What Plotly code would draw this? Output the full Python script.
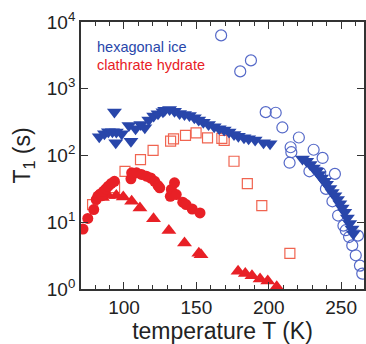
import plotly.graph_objects as go

# hexagonal ice, filled down-triangles
hex_tri_T = [82.9, 86.5, 89.2, 92.0, 93.4, 94.3, 94.7, 98.4, 103.4, 104.8, 108.0, 111.6, 114.4, 117.1,
             120.5, 123.5, 126.9, 128.1, 131.5, 134.9, 138.4, 141.8, 145.2, 148.6, 151.6, 154.8, 158.4,
             162.3, 165.8, 169.2, 172.6, 176.0, 179.0, 182.9, 186.1, 190.6, 196.4, 200.9,
             223.3, 226.2, 228.6, 230.8, 233.1, 234.7, 236.5, 238.4, 239.9, 242.2, 243.8, 245.7,
             247.5, 249.1, 250.7, 252.5, 254.3, 255.9, 257.5, 258.4]
hex_tri_V = [191, 212, 227, 227, 447, 155, 224, 212, 282, 164, 252, 292, 261, 339,
             389, 423, 453, 478, 490, 462, 427, 412, 398, 368, 339, 316, 292,
             270, 252, 240, 224, 207, 195, 184, 178, 170, 155, 150,
             89, 82, 73, 65, 58, 52, 46, 41, 37, 32, 28, 25,
             22, 19, 16.4, 14.1, 11.6, 9.55, 7.9, 6.75]

# hexagonal ice, open circles
hex_circ_T = [167.1, 180.3, 187.7, 197.9, 204.8, 209.4, 220.8, 215.1, 215.6, 214.4, 231.0, 237.2,
              245.7, 228.1, 235.6, 239.5, 244.0, 247.9, 251.6, 253.2, 255.5, 261.6, 257.7, 260.1,
              263.0, 264.6]
hex_circ_V = [6300, 1820, 2660, 446, 437, 263, 186, 133, 112, 78, 122, 92,
              53, 58, 55, 31.6, 20.6, 12.6, 8.9, 7.6, 6.0, 6.3, 4.5, 3.2,
              2.24, 1.7]

# clathrate hydrate, open squares
cla_sq_T = [78.3, 93.5, 100.7, 111.4, 120.1, 132.2, 134.2, 142.5, 149.8, 157.7, 167.6, 169.2,
            176.0, 185.2, 195.2, 214.6]
cla_sq_V = [18.4, 33, 58, 87, 119, 164, 178, 200, 219, 184, 180, 168,
            82, 38, 17.8, 3.42]

# clathrate hydrate, filled circles
cla_circ_T = [71.7, 75.0, 79.1, 80.8, 82.0, 83.6, 84.9, 85.8, 87.5, 89.2, 91.1, 93.4,
              104.8, 105.3, 108.7, 112.1, 115.5, 118.5, 121.2, 123.5, 124.7,
              132.0, 132.7, 134.9, 136.1, 140.6, 142.9, 147.1, 152.5]
cla_circ_V = [7.9, 11.4, 15.5, 21.9, 24.7, 26.6, 25, 29.1, 31.7, 34.7, 38, 41,
              44.8, 55, 55, 52, 49, 46, 41, 35.5, 32.8,
              24.5, 31, 39, 26, 20, 18.4, 15.8, 13.8]

# clathrate hydrate, filled up-triangles
cla_tri_T = [85.1, 89.0, 94.7, 99.5, 105.3, 111.0, 120.4, 131.0, 141.8, 151.7, 153.2,
             178.8, 183.8, 188.4, 194.0, 199.3, 205.5]
cla_tri_V = [23.4, 25.1, 25.1, 23.8, 20.6, 16.4, 11.3, 7.5, 4.9, 3.44, 3.27,
             1.85, 1.71, 1.58, 1.41, 1.32, 1.08]

y_tickvals = [1, 10, 100, 1000, 10000]
y_ticktext = ["10<sup>0</sup>", "10<sup>1</sup>", "10<sup>2</sup>", "10<sup>3</sup>", "10<sup>4</sup>"]
x_tickvals = [100, 150, 200, 250]

BLUE = "rgb(40,70,170)"
BLUE_O = "rgb(85,105,200)"
RED = "rgb(232,32,38)"
RED_O = "rgb(240,100,80)"
FONT = "Liberation Sans, Arial, sans-serif"

fig = go.Figure()
fig.add_trace(go.Scatter(x=hex_circ_T, y=hex_circ_V, mode="markers",
                         marker=dict(symbol="circle-open", size=11, color=BLUE_O, line=dict(width=1.2))))
fig.add_trace(go.Scatter(x=cla_sq_T, y=cla_sq_V, mode="markers",
                         marker=dict(symbol="square-open", size=10, color=RED_O, line=dict(width=1.2))))
fig.add_trace(go.Scatter(x=cla_tri_T, y=cla_tri_V, mode="markers",
                         marker=dict(symbol="triangle-up", size=13, color=RED)))
fig.add_trace(go.Scatter(x=cla_circ_T, y=cla_circ_V, mode="markers",
                         marker=dict(symbol="circle", size=11, color=RED)))
fig.add_trace(go.Scatter(x=hex_tri_T, y=hex_tri_V, mode="markers",
                         marker=dict(symbol="triangle-down", size=13, color=BLUE)))

fig.add_annotation(xref="paper", yref="paper", x=(95 - 81) / 285, y=(289 - 47) / 267,
                   xanchor="left", yanchor="middle", text="hexagonal ice", showarrow=False,
                   font=dict(family=FONT, size=14.5, color=BLUE))
fig.add_annotation(xref="paper", yref="paper", x=(95 - 81) / 285, y=(289 - 65) / 267,
                   xanchor="left", yanchor="middle", text="clathrate hydrate", showarrow=False,
                   font=dict(family=FONT, size=14.5, color=RED))

axis_common = dict(showgrid=False, zeroline=False, showline=True, linecolor="#333",
                   linewidth=1.8, ticks="inside", tickcolor="#333", mirror="ticks",
                   tickfont=dict(family=FONT, size=19, color="#222"))

fig.update_xaxes(range=[70.3, 265.8], tickvals=x_tickvals, ticklen=7, tickwidth=1.4,
                 minor=dict(dtick=10, tick0=0, ticks="inside", ticklen=4, tickcolor="#333", tickwidth=1.2),
                 title=dict(text="temperature T (K)", font=dict(family=FONT, size=23, color="#222"), standoff=5),
                 **axis_common)
fig.update_yaxes(type="log", range=[0, 4], tickvals=y_tickvals, ticktext=y_ticktext,
                 ticklen=7, tickwidth=1.4,
                 title=dict(text="T<sub>1</sub> (s)", font=dict(family=FONT, size=23, color="#222"), standoff=10),
                 **axis_common)

fig.update_layout(width=366, height=344, margin=dict(l=81, r=0, t=22, b=55),
                  paper_bgcolor="white", plot_bgcolor="white", showlegend=False,
                  font=dict(family=FONT))

fig.write_html("out.html")
